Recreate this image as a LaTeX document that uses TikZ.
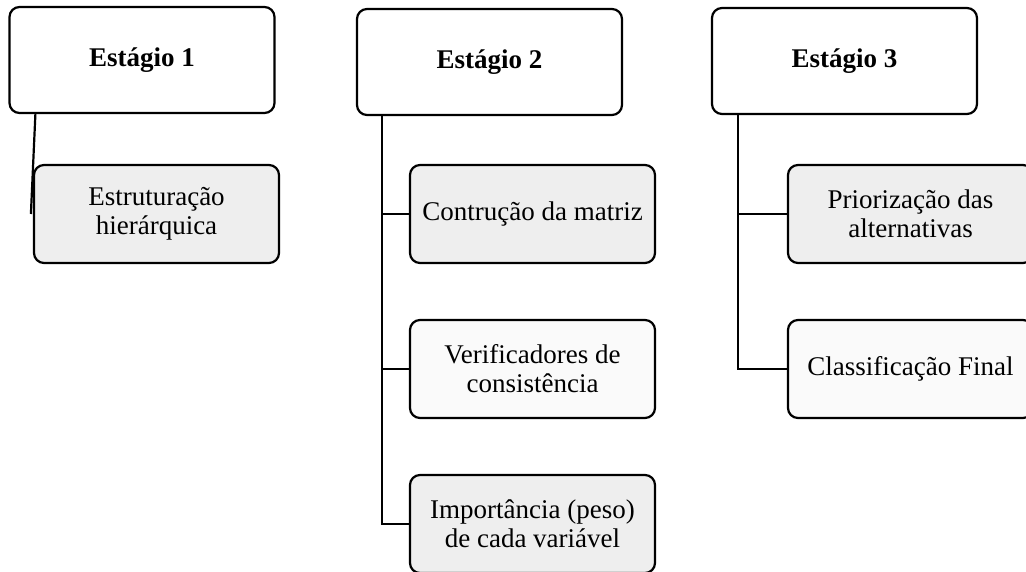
\documentclass[tikz,border=0pt]{standalone}
\usepackage{fontspec}
\setmainfont{Liberation Serif}
\begin{document}
\begin{tikzpicture}[x=1pt,y=-1pt,
  stagebox/.style={draw=black,line width=2.2pt,rounded corners=10pt,fill=white,
    minimum width=265pt,minimum height=106pt,inner sep=0pt,
    font=\fontsize{27}{29}\selectfont\bfseries},
  subbox/.style={draw=black,line width=2.2pt,rounded corners=10pt,
    minimum width=245pt,minimum height=98pt,inner sep=0pt,align=center,
    font=\fontsize{27}{29}\selectfont},
  dark/.style={fill=gray!13},
  light/.style={fill=gray!4},
  conn/.style={line width=2.2pt}]
\useasboundingbox[clip] (0,0) rectangle (1026,572);
\fill[white] (0,0) rectangle (1026,572);
% stage boxes
\node[stagebox] (s1) at (142,60) {Estágio 1};
\node[stagebox] (s2) at (489.5,62) {Estágio 2};
\node[stagebox] (s3) at (844.5,61) {Estágio 3};
% children
\node[subbox,dark]  (c11) at (156.5,214) {Estruturação\\hierárquica};
\node[subbox,dark]  (c21) at (532.5,214) {Contrução da matriz};
\node[subbox,light] (c22) at (532.5,369) {Verificadores de\\consistência};
\node[subbox,dark]  (c23) at (532.5,524) {Importância (peso)\\de cada variável};
\node[subbox,dark]  (c31) at (910.5,214) {Priorização das\\alternativas};
\node[subbox,light] (c32) at (910.5,369) {Classificação Final};
% connectors
\coordinate (t1) at ([xshift=27pt]s1.south west);
\coordinate (e1) at ([xshift=-2pt]c11.west);
\draw[conn] (t1) -- (e1);
\coordinate (t2) at ([xshift=26pt]s2.south west);
\draw[conn] (t2) |- (c21.west);
\draw[conn] (t2) |- (c22.west);
\draw[conn] (t2) |- (c23.west);
\coordinate (t3) at ([xshift=27pt]s3.south west);
\draw[conn] (t3) |- (c31.west);
\draw[conn] (t3) |- (c32.west);
\end{tikzpicture}
\end{document}
